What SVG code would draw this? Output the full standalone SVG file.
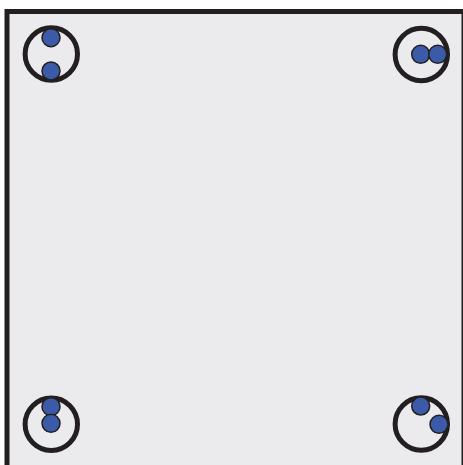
<svg xmlns="http://www.w3.org/2000/svg" width="463" height="465" viewBox="0 0 463 465">
<style>
.frame{fill:#ebebed;stroke:#231f20;stroke-width:5}
.ring{fill:none;stroke:#231f20;stroke-width:5}
.dot{fill:#3b5aa8;stroke:#231f20;stroke-width:1.5}
</style>
<rect width="463" height="465" fill="#ffffff"/>
<rect class="frame" x="7" y="11.5" width="457" height="460"/>
<g id="tl">
<circle class="ring" cx="51.3" cy="54" r="26.2"/>
<circle class="dot" cx="51" cy="37.7" r="9"/>
<circle class="dot" cx="51" cy="71" r="9"/>
</g>
<g id="tr">
<circle class="ring" cx="421.3" cy="54.5" r="26.2"/>
<circle class="dot" cx="420.7" cy="54.3" r="9"/>
<circle class="dot" cx="437.7" cy="54.3" r="9"/>
</g>
<g id="bl">
<circle class="ring" cx="51.3" cy="424.3" r="26.2"/>
<circle class="dot" cx="51" cy="406.7" r="9"/>
<circle class="dot" cx="51" cy="423.3" r="9"/>
</g>
<g id="br">
<circle class="ring" cx="421.3" cy="424" r="26.2"/>
<circle class="dot" cx="420.7" cy="406" r="9"/>
<circle class="dot" cx="439" cy="424.3" r="9"/>
</g>
</svg>
